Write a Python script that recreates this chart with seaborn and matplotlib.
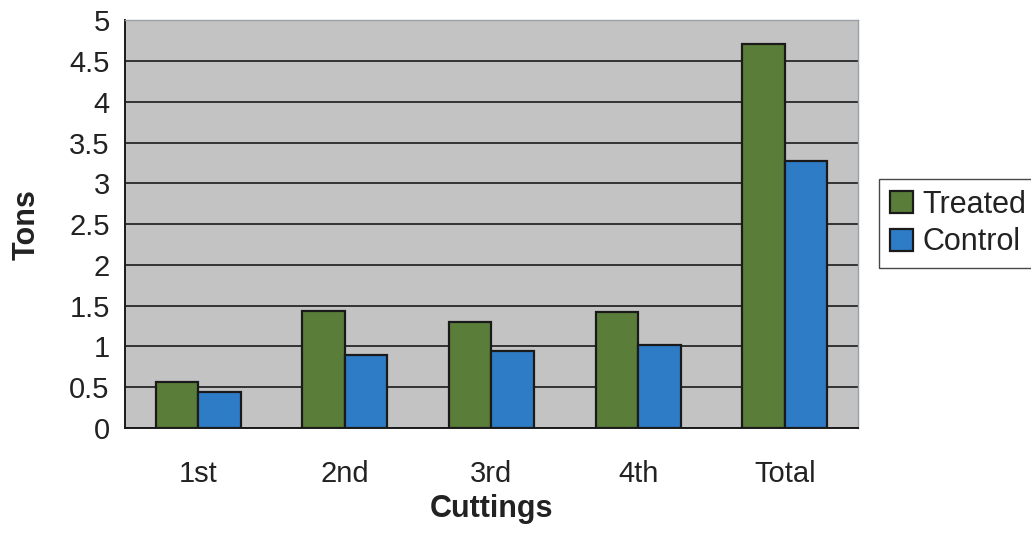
import pandas as pd
import matplotlib
matplotlib.use("Agg")
import matplotlib.pyplot as plt
import seaborn as sns

cuttings = ["1st", "2nd", "3rd", "4th", "Total"]
treated = [0.56, 1.43, 1.30, 1.42, 4.71]
control = [0.44, 0.89, 0.95, 1.02, 3.28]

df = pd.DataFrame({
    "Cuttings": cuttings * 2,
    "Tons": treated + control,
    "Group": ["Treated"] * 5 + ["Control"] * 5,
})

sns.set_style("white")
plt.rcParams["font.family"] = ["Liberation Sans", "DejaVu Sans"]

fig = plt.figure(figsize=(10.31, 5.46), dpi=100)
ax = fig.add_axes([0.1212, 0.216, 0.711, 0.747])
ax.set_facecolor("#c3c3c3")

sns.barplot(data=df, x="Cuttings", y="Tons", hue="Group",
            palette={"Treated": "#5b7d3a", "Control": "#2f7cc6"},
            width=0.58, gap=0, edgecolor="#1a1a1a", linewidth=1.6,
            saturation=1, ax=ax, zorder=3)

ax.set_ylim(0, 5)
ax.set_xlim(-0.5, 4.5)
ax.set_yticks([i * 0.5 for i in range(11)])
ax.set_yticklabels(["0", "0.5", "1", "1.5", "2", "2.5", "3", "3.5", "4", "4.5", "5"])
ax.yaxis.grid(True, color="#1a1a1a", linewidth=1.2, zorder=1)
ax.set_axisbelow(True)

ax.set_xticks(range(5))
ax.set_xticks([0.5, 1.5, 2.5, 3.5], minor=True)
ax.tick_params(axis="x", which="major", length=0, pad=23, labelsize=21, labelcolor="#222222")
ax.tick_params(axis="x", which="minor", length=7, width=1.2, direction="out", color="#1a1a1a")
ax.tick_params(axis="y", length=8, width=1.2, direction="out", color="#1a1a1a",
               labelsize=21, labelcolor="#222222", pad=3)

for side in ["left", "bottom"]:
    ax.spines[side].set_color("#1a1a1a")
    ax.spines[side].set_linewidth(1.4)
for side in ["top", "right"]:
    ax.spines[side].set_color("#9aa0a8")
    ax.spines[side].set_linewidth(1.0)

ax.set_xlabel("Cuttings", fontsize=22, fontweight="bold", labelpad=4, color="#222222")
ax.set_ylabel("Tons", fontsize=22, fontweight="bold", labelpad=20, color="#222222")

leg = ax.legend(loc="upper left", bbox_to_anchor=(0.853, 0.672), bbox_transform=fig.transFigure,
                frameon=True, fancybox=False, edgecolor="#1a1a1a", fontsize=22,
                handlelength=0.75, handleheight=0.75, handletextpad=0.3, borderpad=0.35,
                labelspacing=0.25, borderaxespad=0)
leg.get_frame().set_linewidth(1.0)
for t in leg.get_texts():
    t.set_color("#222222")

fig.savefig("out.png", dpi=100, facecolor="white")
